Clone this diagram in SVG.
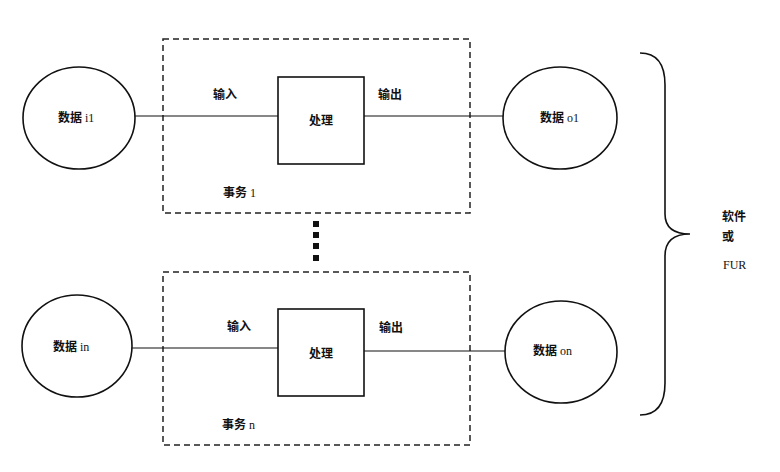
<svg xmlns="http://www.w3.org/2000/svg" width="780" height="472" viewBox="0 0 780 472">
<style>
.bg{fill:#fff}
.circ{fill:#fff;stroke:#111;stroke-width:1.6}
.proc{fill:#fff;stroke:#111;stroke-width:1.6}
.tx{fill:none;stroke:#222;stroke-width:1.5;stroke-dasharray:6,4}
.ln{fill:none;stroke:#111;stroke-width:1.2}
.brace{fill:none;stroke:#111;stroke-width:1.6}
.dot{fill:#111}
text{font-family:"Liberation Serif","Noto Sans CJK SC",serif;font-size:12px;fill:#111}
.cjk{font-family:"Noto Sans CJK SC",sans-serif;font-weight:bold}
</style>
<rect class="bg" x="0" y="0" width="780" height="472"/>
<g id="transaction1">
<rect class="tx" x="163" y="39" width="307" height="174"/>
<text x="223" y="197"><tspan class="cjk">事务</tspan> 1</text>
</g>
<g id="transactionn">
<rect class="tx" x="163" y="272" width="307" height="173"/>
<text x="222" y="429"><tspan class="cjk">事务</tspan> n</text>
</g>
<g id="ellipsis">
<rect class="dot" x="313" y="221" width="6" height="6"/>
<rect class="dot" x="313" y="232" width="6" height="6"/>
<rect class="dot" x="313" y="243" width="6" height="6"/>
<rect class="dot" x="313" y="255" width="6" height="6"/>
</g>
<g id="connectors">
<line class="ln" x1="135" y1="116" x2="278" y2="116"/>
<line class="ln" x1="364" y1="116" x2="503" y2="116"/>
<line class="ln" x1="132" y1="348" x2="278" y2="348"/>
<line class="ln" x1="364" y1="351" x2="505" y2="351"/>
<text class="cjk" x="213" y="99">输入</text>
<text class="cjk" x="378" y="99">输出</text>
<text class="cjk" x="227" y="331">输入</text>
<text class="cjk" x="379" y="332">输出</text>
</g>
<g id="data_i1">
<ellipse class="circ" cx="79" cy="118" rx="56" ry="51"/>
<text x="58" y="122"><tspan class="cjk">数据</tspan> i1</text>
</g>
<g id="process1">
<rect class="proc" x="278" y="77" width="86" height="87"/>
<text class="cjk" x="321" y="125" text-anchor="middle">处理</text>
</g>
<g id="data_o1">
<ellipse class="circ" cx="560" cy="118" rx="57" ry="51"/>
<text x="540" y="122"><tspan class="cjk">数据</tspan> o1</text>
</g>
<g id="data_in">
<ellipse class="circ" cx="77" cy="346" rx="55" ry="51"/>
<text x="53" y="351"><tspan class="cjk">数据</tspan> in</text>
</g>
<g id="processn">
<rect class="proc" x="278" y="309" width="86" height="87"/>
<text class="cjk" x="321" y="358" text-anchor="middle">处理</text>
</g>
<g id="data_on">
<ellipse class="circ" cx="561" cy="352" rx="56" ry="51"/>
<text x="533" y="355"><tspan class="cjk">数据</tspan> on</text>
</g>
<g id="software">
<path class="brace" d="M640,53 Q665,53 665,85 L665,214 Q665,234 690,234 Q665,234 665,256 L665,383 Q665,415 640,415"/>
<text class="cjk" x="722" y="221">软件</text>
<text class="cjk" x="722" y="241">或</text>
<text x="723" y="269">FUR</text>
</g>
</svg>
